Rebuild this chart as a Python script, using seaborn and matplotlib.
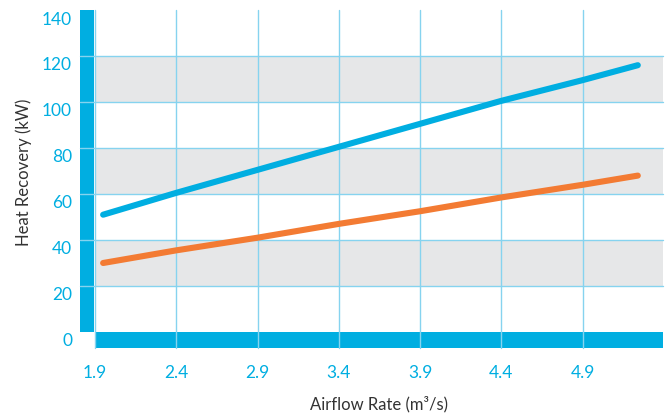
import matplotlib
matplotlib.use("Agg")
import matplotlib.pyplot as plt
import matplotlib.transforms as mtransforms
from matplotlib.patches import Rectangle
import seaborn as sns
import pandas as pd

# values
airflow = [1.95, 2.4, 2.9, 3.4, 3.9, 4.4, 4.9, 5.24]
recovery_blue = [51, 60.5, 70.5, 80.5, 90.5, 100.5, 109.5, 116]
recovery_orange = [30, 35.5, 41, 47, 52.5, 58.5, 64, 68]
x_ticks = [1.9, 2.4, 2.9, 3.4, 3.9, 4.4, 4.9]
y_ticks = [0, 20, 40, 60, 80, 100, 120, 140]
bands = [(20, 40), (60, 80), (100, 120)]

BLUE = "#00aee1"
ORANGE = "#f37b33"
GRID = "#86d3ef"
GREY_BAND = "#e6e7e8"

sns.set_style("white")
plt.rcParams["font.family"] = ["Lato", "DejaVu Sans"]

df = pd.DataFrame({"x": airflow, "blue": recovery_blue, "orange": recovery_orange})

fig = plt.figure(figsize=(6.72, 4.14), dpi=100)
ax = fig.add_axes([95 / 672, 1 - 333 / 414, 568 / 672, 322 / 414])

for lo, hi in bands:
    ax.axhspan(lo, hi, color=GREY_BAND, zorder=0, lw=0)

# thick blue bars standing in for the axis lines
ax.add_patch(Rectangle((-15 / 568, 0), 14 / 568, 1, transform=ax.transAxes,
                       color=BLUE, lw=0, clip_on=False, zorder=3))
ax.add_patch(Rectangle((0, -16 / 322), 1, 16 / 322, transform=ax.transAxes,
                       color=BLUE, lw=0, clip_on=False, zorder=3))

# grid lines that run through the thick axis bars
for xt in x_ticks:
    ax.axvline(xt, ymin=-0.05, ymax=1, color=GRID, lw=1, clip_on=False, zorder=4)
for yt in y_ticks[1:-1]:
    ax.axhline(yt, xmin=-0.027, xmax=1, color=GRID, lw=1, clip_on=False, zorder=4)

sns.lineplot(data=df, x="x", y="blue", color=BLUE, lw=4.4,
             solid_capstyle="round", ax=ax, zorder=5)
sns.lineplot(data=df, x="x", y="orange", color=ORANGE, lw=4.4,
             solid_capstyle="round", ax=ax, zorder=5)

ax.set_xlim(1.9, 5.395)
ax.set_ylim(0, 140)
ax.set_xticks(x_ticks)
ax.set_xticklabels([str(v) for v in x_ticks])
ax.set_yticks(y_ticks)

for side in ["top", "right", "left", "bottom"]:
    ax.spines[side].set_visible(False)

ax.tick_params(axis="both", length=0, labelsize=12.5, labelcolor=BLUE)
ax.tick_params(axis="y", pad=16.5)
ax.tick_params(axis="x", pad=23)

offset = mtransforms.ScaledTranslation(0, -7 / 100, fig.dpi_scale_trans)
for lab in ax.get_yticklabels():
    lab.set_transform(lab.get_transform() + offset)

ax.set_xlabel("Airflow Rate (m³/s)", fontsize=12, color="#333333", labelpad=10.5)
ax.set_ylabel("Heat Recovery (kW)", fontsize=12, color="#333333", labelpad=7)

fig.savefig("out.png", dpi=100)
